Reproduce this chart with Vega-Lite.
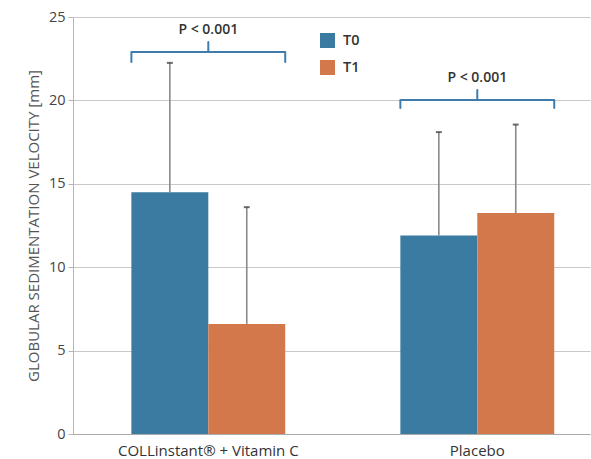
{
  "$schema": "https://vega.github.io/schema/vega-lite/v6.json",
  "width": 517,
  "height": 417,
  "autosize": "none",
  "padding": {"left": 73, "top": 17, "right": 1, "bottom": 25},
  "config": {"font": "Open Sans", "view": {"stroke": null}},
  "datasets": {
    "bars": [
      {"group": "COLLinstant® + Vitamin C", "time": "T0", "mean": 14.5, "upper": 22.25},
      {"group": "COLLinstant® + Vitamin C", "time": "T1", "mean": 6.6, "upper": 13.6},
      {"group": "Placebo", "time": "T0", "mean": 11.9, "upper": 18.1},
      {"group": "Placebo", "time": "T1", "mean": 13.25, "upper": 18.55}
    ],
    "brackets": [
      {"group": "COLLinstant® + Vitamin C", "bar": 22.9, "end": 22.3, "peak": 23.5, "labelY": 23.98, "label": "P < 0.001"},
      {"group": "Placebo", "bar": 20.02, "end": 19.54, "peak": 20.62, "labelY": 21.1, "label": "P < 0.001"}
    ]
  },
  "layer": [
    {
      "data": {"name": "bars"},
      "mark": {"type": "bar"},
      "encoding": {
        "x": {
          "field": "group", "type": "nominal", "sort": null,
          "scale": {"paddingInner": 0.428, "paddingOuter": 0.175, "align": 0.62},
          "axis": {"title": null, "labelAngle": 0, "ticks": false, "labelPadding": 9, "labelFontSize": 15, "labelLimit": 0, "labelColor": "#333", "domainColor": "#aaaaaa", "labelFont": "Open Sans"}
        },
        "xOffset": {"field": "time", "type": "nominal", "scale": {"paddingInner": 0, "paddingOuter": 0}},
        "y": {
          "field": "mean", "type": "quantitative",
          "scale": {"domain": [0, 25], "nice": false},
          "axis": {"values": [0, 5, 10, 15, 20, 25], "title": "GLOBULAR SEDIMENTATION VELOCITY [mm]", "grid": true, "gridColor": "#c8c8c8", "domainColor": "#b5b5b5", "tickColor": "#b5b5b5", "tickSize": 5, "labelFontSize": 14.5, "labelColor": "#444", "labelPadding": 3, "titleFontSize": 15, "titleColor": "#555", "titleFontWeight": "normal", "titlePadding": 7}
        },
        "color": {
          "field": "time", "type": "nominal",
          "scale": {"domain": ["T0", "T1"], "range": ["#3b7aa1", "#d2784b"]},
          "legend": {
            "title": null, "orient": "none", "legendX": 247, "legendY": 16,
            "symbolType": "square", "symbolSize": 225, "symbolStrokeWidth": 0,
            "labelFontSize": 14.5, "labelFontWeight": 600, "labelColor": "#333",
            "rowPadding": 11, "labelOffset": 8, "padding": 0, "symbolOpacity": 1
          }
        }
      }
    },
    {
      "data": {"name": "bars"},
      "mark": {"type": "rule", "color": "#8a8a8a", "strokeWidth": 1.6},
      "encoding": {
        "x": {"field": "group", "type": "nominal", "sort": null},
        "xOffset": {"field": "time", "type": "nominal"},
        "y": {"field": "mean", "type": "quantitative"},
        "y2": {"field": "upper"}
      }
    },
    {
      "data": {"name": "bars"},
      "mark": {"type": "tick", "color": "#333333", "thickness": 2, "size": 6},
      "encoding": {
        "x": {"field": "group", "type": "nominal", "sort": null},
        "xOffset": {"field": "time", "type": "nominal"},
        "y": {"field": "upper", "type": "quantitative"}
      }
    },
    {
      "data": {"name": "brackets"},
      "mark": {"type": "bar", "fill": null, "fillOpacity": 0, "stroke": "#3f7cab", "strokeWidth": 2},
      "encoding": {
        "x": {"field": "group", "type": "nominal", "sort": null},
        "y": {"field": "bar", "type": "quantitative"},
        "y2": {"field": "bar"}
      }
    },
    {
      "data": {"name": "brackets"},
      "mark": {"type": "rule", "stroke": "#3f7cab", "strokeWidth": 2, "strokeCap": "round"},
      "encoding": {
        "x": {"field": "group", "type": "nominal", "sort": null, "bandPosition": 0},
        "y": {"field": "bar", "type": "quantitative"},
        "y2": {"field": "end"}
      }
    },
    {
      "data": {"name": "brackets"},
      "mark": {"type": "rule", "stroke": "#3f7cab", "strokeWidth": 2, "strokeCap": "round"},
      "encoding": {
        "x": {"field": "group", "type": "nominal", "sort": null, "bandPosition": 1},
        "y": {"field": "bar", "type": "quantitative"},
        "y2": {"field": "end"}
      }
    },
    {
      "data": {"name": "brackets"},
      "mark": {"type": "rule", "stroke": "#3f7cab", "strokeWidth": 2, "strokeCap": "round"},
      "encoding": {
        "x": {"field": "group", "type": "nominal", "sort": null, "bandPosition": 0.5},
        "y": {"field": "bar", "type": "quantitative"},
        "y2": {"field": "peak"}
      }
    },
    {
      "data": {"name": "brackets"},
      "mark": {"type": "text", "fontSize": 14, "fontWeight": 600, "color": "#333333", "baseline": "alphabetic"},
      "encoding": {
        "x": {"field": "group", "type": "nominal", "sort": null},
        "y": {"field": "labelY", "type": "quantitative"},
        "text": {"field": "label"}
      }
    }
  ]
}
